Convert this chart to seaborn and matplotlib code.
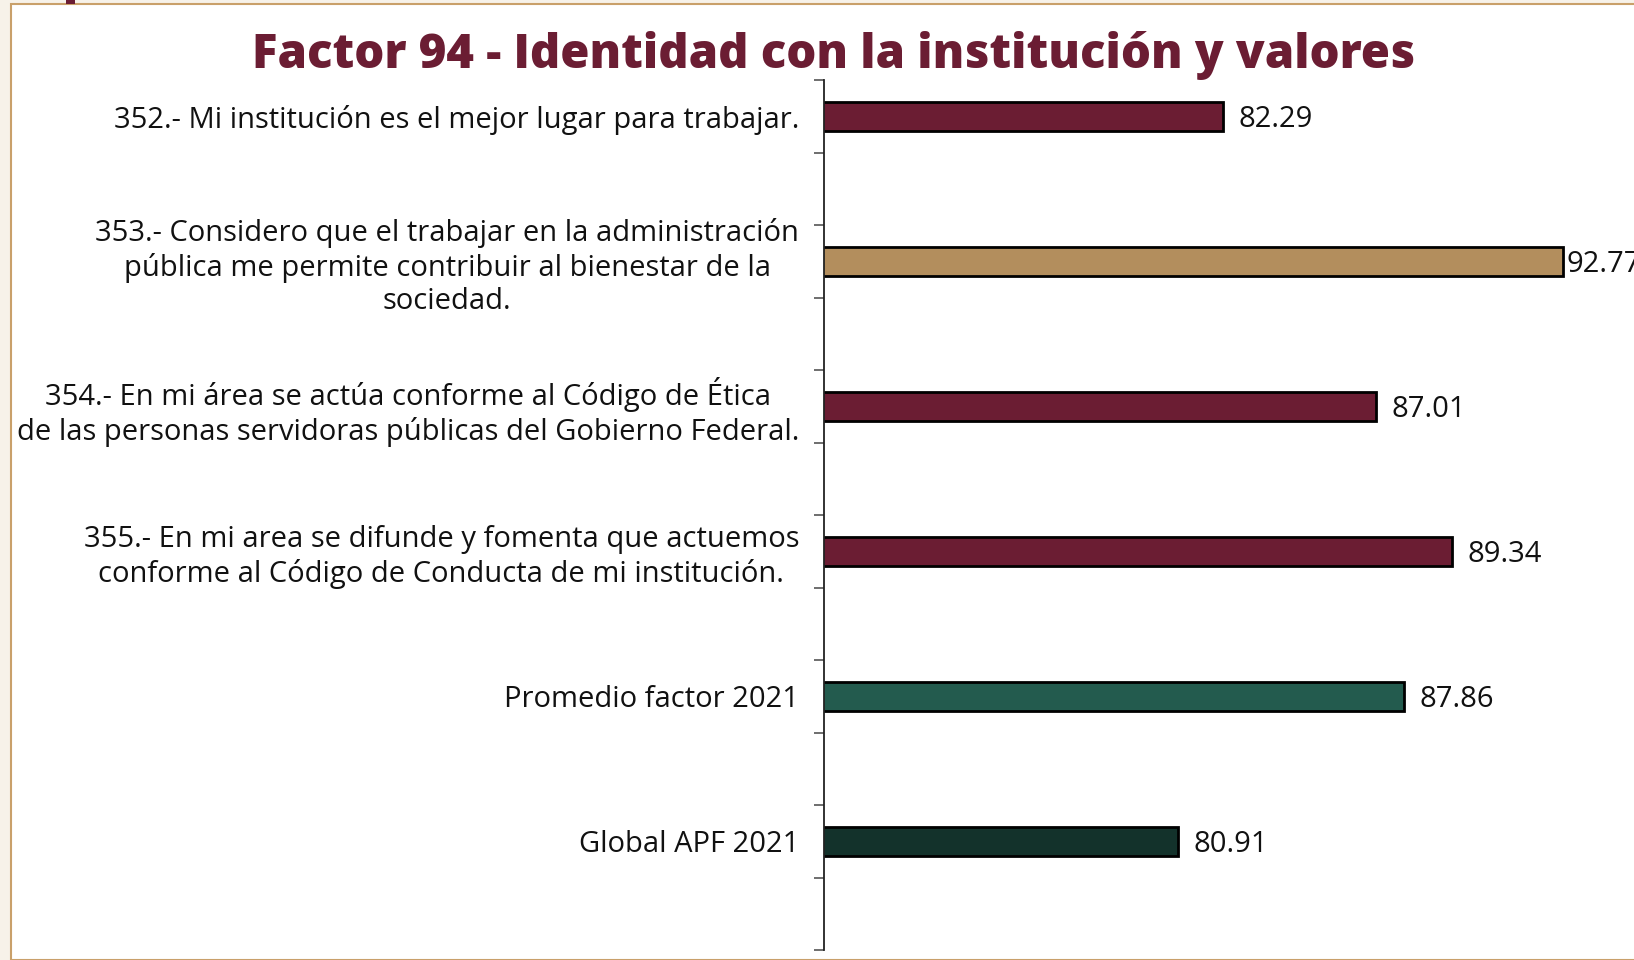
import pandas as pd
import seaborn as sns
import matplotlib.pyplot as plt
import numpy as np
from matplotlib.patches import Rectangle

# Data
preguntas = [
    '352.- Mi institución es el mejor lugar para trabajar.',
    '353.- Considero que el trabajar en la administración\npública me permite contribuir al bienestar de la\nsociedad.',
    '354.- En mi área se actúa conforme al Código de Ética\nde las personas servidoras públicas del Gobierno Federal.',
    '355.- En mi area se difunde y fomenta que actuemos\nconforme al Código de Conducta de mi institución.',
    'Promedio factor 2021',
    'Global APF 2021',
]
valores = [82.29, 92.77, 87.01, 89.34, 87.86, 80.91]
colores = ['#6B1D33', '#B38E5D', '#6B1D33', '#6B1D33', '#235B4E', '#13322B']
titulo = 'Factor 94 - Identidad con la institución y valores'

df = pd.DataFrame({'pregunta': preguntas, 'valor': valores})

sns.set_style('white')
plt.rcParams['font.family'] = ['Open Sans', 'DejaVu Sans']

fig = plt.figure(figsize=(16.34, 9.6), dpi=100, facecolor='#F7F2E9')

# white panel with gold frame, behind the axes
fig.patches.append(Rectangle((11 / 1634, 0), 1, 1 - 4 / 960, transform=fig.transFigure,
                             facecolor='white', edgecolor='#C9A06A', linewidth=1.5, zorder=-10))
fig.patches.append(Rectangle((66 / 1634, 1 - 4 / 960), 9 / 1634, 4 / 960, transform=fig.transFigure,
                             facecolor='#6B1D33', edgecolor='none', zorder=-9))

ax = fig.add_axes([824 / 1634, 10 / 960, 1 - 824 / 1634 + 0.01, 870 / 960])
ax.set_facecolor('none')
ax.set_zorder(5)

sns.barplot(data=df, x='valor', y='pregunta', hue='pregunta', palette=colores,
            legend=False, width=0.2, edgecolor='black', linewidth=2, saturation=1,
            orient='h', ax=ax)

# the longest bar's label sits tight against the plot edge, like the original
for c, v in zip(ax.containers, valores):
    pad = 2 if v == max(valores) else 11
    for t in ax.bar_label(c, fmt='%.2f', padding=pad, fontsize=21, color='#111111'):
        t.set_va('center_baseline')

ax.set_xlim(70, 95.45)
ax.set_ylim(5.75, -0.25)
ax.set_xlabel('')
ax.set_ylabel('')
ax.set_xticks([])
ax.set_yticks(range(len(preguntas)))
ax.set_yticklabels(preguntas, fontsize=21, color='#111111', multialignment='center',
                   linespacing=1.2, va='center_baseline')
ax.set_yticks(np.arange(-0.25, 6, 0.5), minor=True)
ax.tick_params(axis='y', which='major', length=0, pad=18)
ax.tick_params(axis='y', which='minor', length=7, width=1.2, color='#555555', left=True)
for s in ['top', 'right', 'bottom']:
    ax.spines[s].set_visible(False)
ax.spines['left'].set_color('#222222')
ax.spines['left'].set_linewidth(1.3)

fig.text(834 / 1634, 1 - 55 / 960, titulo, ha='center', va='center', fontsize=34,
         fontweight='heavy', color='#6B1D33')

fig.savefig('out.png', dpi=100, facecolor=fig.get_facecolor())
